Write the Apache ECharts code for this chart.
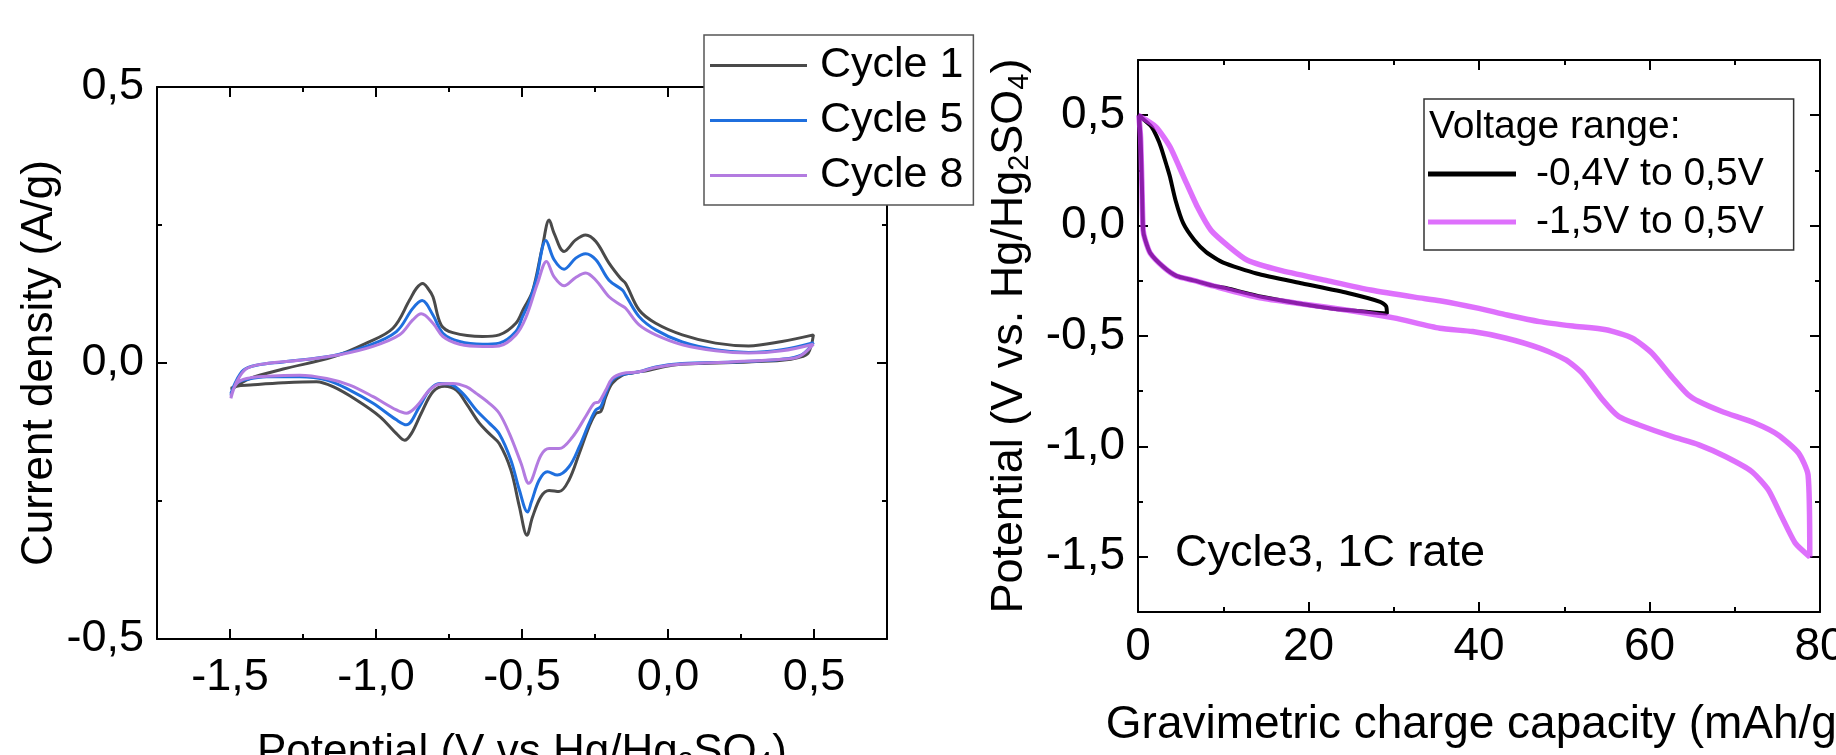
<!DOCTYPE html>
<html><head><meta charset="utf-8">
<script src="https://cdn.jsdelivr.net/npm/echarts@6/dist/echarts.min.js"></script>
<style>html,body{margin:0;padding:0;background:#fff}#c{width:1836px;height:755px}</style>
</head><body><div id="c"></div>
<script>
// ---------- Cyclic voltammetry (left) : [potential V, current density A/g]
const cycle1 = [[-1.497,-0.049],[-1.431,-0.028],[-1.318,-0.011],[-1.147,0.011],[-1.033,0.036],[-0.942,0.063],[-0.885,0.114],[-0.862,0.135],[-0.840,0.144],[-0.822,0.135],[-0.805,0.120],[-0.777,0.069],[-0.737,0.055],[-0.635,0.048],[-0.578,0.051],[-0.521,0.072],[-0.495,0.098],[-0.464,0.130],[-0.430,0.211],[-0.407,0.259],[-0.390,0.235],[-0.356,0.202],[-0.316,0.223],[-0.282,0.232],[-0.247,0.220],[-0.202,0.181],[-0.162,0.153],[-0.145,0.144],[-0.099,0.096],[-0.042,0.072],[0.049,0.051],[0.163,0.036],[0.276,0.031],[0.390,0.039],[0.498,0.051],
  [0.480,0.018],[0.447,0.010],[0.390,0.005],[0.276,0.002],[0.105,-0.001],[0.014,-0.004],[-0.065,-0.013],[-0.122,-0.018],[-0.156,-0.022],[-0.191,-0.037],[-0.213,-0.061],[-0.230,-0.088],[-0.247,-0.091],[-0.270,-0.115],[-0.304,-0.164],[-0.339,-0.212],[-0.373,-0.233],[-0.407,-0.231],[-0.435,-0.242],[-0.464,-0.279],[-0.483,-0.312],[-0.509,-0.260],[-0.538,-0.194],[-0.578,-0.146],[-0.612,-0.128],[-0.646,-0.109],[-0.691,-0.073],[-0.725,-0.049],[-0.765,-0.042],[-0.805,-0.052],[-0.845,-0.091],[-0.879,-0.128],[-0.902,-0.140],[-0.930,-0.128],[-0.987,-0.097],[-1.067,-0.067],[-1.147,-0.043],[-1.204,-0.034],[-1.318,-0.036],[-1.431,-0.040],[-1.477,-0.042],[-1.497,-0.046]];
const cycle5 = [[-1.497,-0.058],[-1.483,-0.037],[-1.454,-0.013],[-1.409,-0.004],[-1.318,0.002],[-1.147,0.013],[-1.033,0.030],[-0.930,0.057],[-0.874,0.099],[-0.842,0.113],[-0.805,0.087],[-0.771,0.054],[-0.714,0.039],[-0.635,0.034],[-0.578,0.036],[-0.521,0.057],[-0.498,0.084],[-0.475,0.111],[-0.452,0.150],[-0.418,0.222],[-0.390,0.187],[-0.356,0.170],[-0.316,0.190],[-0.282,0.198],[-0.247,0.187],[-0.202,0.150],[-0.156,0.132],[-0.145,0.123],[-0.099,0.084],[-0.042,0.060],[0.049,0.038],[0.163,0.024],[0.276,0.019],[0.390,0.024],[0.498,0.037],
  [0.458,0.015],[0.390,0.007],[0.219,0.002],[0.049,-0.001],[-0.042,-0.007],[-0.099,-0.016],[-0.156,-0.021],[-0.191,-0.031],[-0.213,-0.055],[-0.230,-0.079],[-0.247,-0.085],[-0.270,-0.109],[-0.304,-0.152],[-0.339,-0.188],[-0.379,-0.203],[-0.413,-0.197],[-0.441,-0.212],[-0.468,-0.252],[-0.481,-0.270],[-0.509,-0.230],[-0.538,-0.176],[-0.578,-0.128],[-0.612,-0.109],[-0.657,-0.085],[-0.703,-0.055],[-0.748,-0.038],[-0.782,-0.037],[-0.817,-0.049],[-0.851,-0.079],[-0.896,-0.112],[-0.930,-0.103],[-1.010,-0.073],[-1.090,-0.049],[-1.169,-0.031],[-1.261,-0.025],[-1.374,-0.025],[-1.443,-0.030],[-1.477,-0.037],[-1.497,-0.055]];
const cycle8 = [[-1.497,-0.064],[-1.477,-0.034],[-1.443,-0.010],[-1.374,-0.001],[-1.261,0.005],[-1.124,0.015],[-1.010,0.030],[-0.919,0.051],[-0.874,0.078],[-0.845,0.089],[-0.805,0.072],[-0.771,0.048],[-0.714,0.034],[-0.635,0.030],[-0.578,0.031],[-0.521,0.051],[-0.487,0.082],[-0.447,0.144],[-0.416,0.184],[-0.390,0.156],[-0.356,0.140],[-0.316,0.155],[-0.282,0.163],[-0.247,0.150],[-0.202,0.120],[-0.162,0.105],[-0.145,0.099],[-0.099,0.069],[-0.042,0.051],[0.049,0.033],[0.163,0.022],[0.276,0.018],[0.390,0.022],[0.498,0.034],
  [0.447,0.011],[0.390,0.007],[0.219,0.002],[0.049,-0.002],[-0.042,-0.008],[-0.099,-0.016],[-0.156,-0.019],[-0.191,-0.028],[-0.213,-0.049],[-0.236,-0.070],[-0.253,-0.073],[-0.282,-0.097],[-0.327,-0.134],[-0.373,-0.155],[-0.407,-0.155],[-0.435,-0.167],[-0.477,-0.218],[-0.503,-0.182],[-0.543,-0.128],[-0.578,-0.091],[-0.612,-0.073],[-0.657,-0.055],[-0.691,-0.043],[-0.737,-0.037],[-0.782,-0.038],[-0.817,-0.049],[-0.862,-0.079],[-0.896,-0.091],[-0.930,-0.085],[-1.010,-0.061],[-1.090,-0.040],[-1.169,-0.028],[-1.261,-0.022],[-1.374,-0.024],[-1.443,-0.028],[-1.477,-0.037],[-1.497,-0.061]];

// ---------- Galvanostatic curves (right) : [capacity mAh/g, potential V]
const range04 = [[0,0.5],[0.27,0.493],[1.6,0.447],[2.2,0.403],[2.68,0.357],[3.4,0.267],[3.75,0.221],[4.4,0.115],[5.3,0.011],[6.6,-0.065],[8.0,-0.12],[10.0,-0.168],[13.9,-0.217],[19.3,-0.262],[24.6,-0.305],[28.4,-0.345],[29.1,-0.365],[29.2,-0.398],
  [22.5,-0.374],[14.5,-0.322],[10.4,-0.284],[8.8,-0.272],[6.5,-0.248],[4.5,-0.228],[3.0,-0.188],[1.44,-0.125],[0.85,-0.065],[0.6,-0.02],[0.45,0.2],[0.3,0.4],[0.1,0.5]];
const range15 = [[0,0.5],[2.1,0.447],[3.75,0.357],[5.35,0.221],[6.96,0.085],[8.56,-0.021],[10.7,-0.096],[12.84,-0.157],[16.6,-0.202],[21.9,-0.247],[27.3,-0.292],[32.6,-0.325],[35.4,-0.34],[40,-0.375],[43.3,-0.405],[47.1,-0.435],[51,-0.455],[54.9,-0.472],[58.0,-0.51],[60.3,-0.578],[62.6,-0.684],[64.5,-0.765],[65.8,-0.797],[68.5,-0.842],[72.4,-0.895],[75.1,-0.948],[77.5,-1.031],[78.6,-1.129],[78.8,-1.5],
  [77.1,-1.438],[75.5,-1.318],[73.95,-1.197],[72.0,-1.114],[68.9,-1.046],[65.8,-0.993],[62.6,-0.955],[58.7,-0.902],[56.4,-0.865],[54.5,-0.789],[52.1,-0.668],[50.2,-0.608],[47.1,-0.555],[43.2,-0.51],[39.25,-0.48],[35.4,-0.465],[30.0,-0.418],[24.6,-0.383],[19.3,-0.355],[14.3,-0.327],[8.8,-0.273],[6.5,-0.248],[4.5,-0.228],[3.0,-0.188],[1.44,-0.125],[0.85,-0.065],[0.6,-0.02],[0.45,0.2],[0.3,0.4],[0.1,0.5]];

// ---------- ticks
const cvXMajor = [-1.5,-1,-0.5,0,0.5];
const cvXMinor = [-1.25,-0.75,-0.25,0.25];
const cvYMajor = [-0.5,0,0.5];
const cvYMinor = [-0.25,0.25];
const gcdXMajor = [0,20,40,60,80];
const gcdXMinor = [10,30,50,70];
const gcdYMajor = [-1.5,-1,-0.5,0,0.5];
const gcdYMinor = [-1.25,-0.75,-0.25,0.25];

const FONT = "'Liberation Sans', Arial, sans-serif";
const comma = v => (Math.round(v*10)/10).toFixed(1).replace('.', ',');
const intFmt = v => String(Math.round(v));

function makeAxes(dim, gridIndex, min, max, major, minor, o) {
  const mainPos = dim === 'x' ? 'bottom' : 'left';
  const oppPos = dim === 'x' ? 'top' : 'right';
  const mk = (pos, ticks, len, line, labels) => ({
    type: 'value', gridIndex, min, max, position: pos,
    splitLine: {show: false},
    axisLine: {show: line, onZero: false, lineStyle: {color: '#000', width: 2}},
    axisTick: {show: true, inside: true, length: len, customValues: ticks, lineStyle: {color: '#000', width: 2}},
    axisLabel: labels ? {show: true, customValues: major, formatter: o.fmt, fontSize: o.fontSize, fontFamily: FONT, color: '#000', margin: o.margin} : {show: false}
  });
  const a = mk(mainPos, major, 10, true, true);
  a.name = o.name; a.nameLocation = 'middle'; a.nameGap = o.nameGap; a.nameTextStyle = o.nameTextStyle;
  return [a, mk(mainPos, minor, 5, false, false), mk(oppPos, major, 10, true, false), mk(oppPos, minor, 5, false, false)];
}
function titleRich(size) {
  return {
    fontFamily: FONT, color: '#000',
    rich: {
      m: {fontSize: size, fontFamily: FONT, color: '#000', lineHeight: size + 4},
      s: {fontSize: Math.round(size * 0.64), fontFamily: FONT, color: '#000', lineHeight: 20, verticalAlign: 'bottom'}
    }
  };
}

const xAxes = [].concat(
  makeAxes('x', 0, -1.75, 0.75, cvXMajor, cvXMinor, {fmt: comma, fontSize: 45, margin: 16, name: '{m|Potential (V vs Hg/Hg}{s|2}{m|SO}{s|4}{m|)}', nameGap: 90, nameTextStyle: titleRich(44)}),
  makeAxes('x', 1, 0, 80, gcdXMajor, gcdXMinor, {fmt: intFmt, fontSize: 46, margin: 12, name: '{m|Gravimetric charge capacity (mAh/g)}', nameGap: 88, nameTextStyle: titleRich(46)})
);
const yAxes = [].concat(
  makeAxes('y', 0, -0.5, 0.5, cvYMajor, cvYMinor, {fmt: comma, fontSize: 45, margin: 13, name: '{m|Current density (A/g)}', nameGap: 93, nameTextStyle: titleRich(44)}),
  makeAxes('y', 1, -1.75, 0.75, gcdYMajor, gcdYMinor, {fmt: comma, fontSize: 46, margin: 13, name: '{m|Potential (V vs. Hg/Hg}{s|2}{m|SO}{s|4}{m|)}', nameGap: 104, nameTextStyle: titleRich(45)})
);

const chart = echarts.init(document.getElementById('c'), null, {renderer: 'canvas'});
chart.setOption({
  animation: false,
  backgroundColor: '#fff',
  grid: [
    {left: 157, top: 87, width: 730, height: 552, containLabel: false, outerBoundsMode: 'none'},
    {left: 1138, top: 60, width: 682, height: 552, containLabel: false, outerBoundsMode: 'none'}
  ],
  xAxis: xAxes,
  yAxis: yAxes,
  legend: [
    {data: ['Cycle 1', 'Cycle 5', 'Cycle 8'], orient: 'vertical', left: 704, top: 35, icon: 'rect',
     itemWidth: 97, itemHeight: 3, itemGap: 12, padding: [9, 10, 8, 6],
     backgroundColor: '#fff', borderColor: '#555', borderWidth: 1.5, z: 10,
     textStyle: {fontSize: 43, fontFamily: FONT, color: '#000', lineHeight: 42, padding: [0, 0, 0, 8]}},
    {data: ['-0,4V to 0,5V', '-1,5V to 0,5V'], orient: 'vertical', left: 1424, top: 99, icon: 'rect',
     itemWidth: 88, itemHeight: 5, itemGap: 8, padding: [55, 30, 8, 4],
     backgroundColor: '#fff', borderColor: '#333', borderWidth: 1.5, z: 10,
     textStyle: {fontSize: 39, fontFamily: FONT, color: '#000', lineHeight: 40, padding: [0, 0, 0, 15]}}
  ],
  graphic: [
    {type: 'text', x: 1429, y: 127, z: 100, style: {text: 'Voltage range:', fontSize: 39, fontFamily: FONT, fill: '#000', verticalAlign: 'middle'}},
    {type: 'text', x: 1175, y: 554, z: 100, style: {text: 'Cycle3, 1C rate', fontSize: 45, fontFamily: FONT, fill: '#000', verticalAlign: 'middle'}}
  ],
  series: [
    {type: 'line', name: 'Cycle 1', xAxisIndex: 0, yAxisIndex: 0, data: cycle1, symbol: 'none', smooth: 0.35, lineStyle: {color: '#4a4a4a', width: 3}, itemStyle: {color: '#4a4a4a'}},
    {type: 'line', name: 'Cycle 5', xAxisIndex: 0, yAxisIndex: 0, data: cycle5, symbol: 'none', smooth: 0.35, lineStyle: {color: '#1f6fde', width: 3}, itemStyle: {color: '#1f6fde'}},
    {type: 'line', name: 'Cycle 8', xAxisIndex: 0, yAxisIndex: 0, data: cycle8, symbol: 'none', smooth: 0.35, lineStyle: {color: '#b37be0', width: 3}, itemStyle: {color: '#b37be0'}},
    {type: 'line', name: '-0,4V to 0,5V', xAxisIndex: 4, yAxisIndex: 4, data: range04, symbol: 'none', smooth: 0.2, lineStyle: {color: '#000', width: 4}, itemStyle: {color: '#000'}},
    {type: 'line', name: '-1,5V to 0,5V', xAxisIndex: 4, yAxisIndex: 4, data: range15, symbol: 'none', smooth: 0.2, lineStyle: {color: 'rgb(206,44,250)', width: 5.5, opacity: 0.68}, itemStyle: {color: 'rgb(206,44,250)', opacity: 0.68}}
  ]
});
</script></body></html>
